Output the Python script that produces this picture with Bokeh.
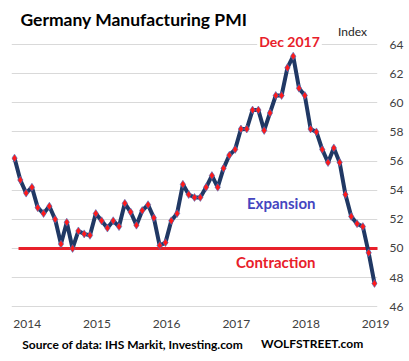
from bokeh.plotting import figure
from bokeh.models import Range1d, FixedTicker, Label
from bokeh.layouts import column
from bokeh.embed import file_html
from bokeh.resources import INLINE

# ---- data (monthly index, Jan 2014 .. Feb 2019) ----
pmi = [56.2, 54.7, 53.8, 54.2, 52.8, 52.4, 52.9, 52.0, 50.3, 51.8, 50.0, 51.2,
       51.0, 50.9, 52.4, 51.9, 51.4, 51.9, 51.5, 53.1, 52.5, 51.6, 52.6, 53.0,
       52.1, 50.2, 50.4, 51.9, 52.4, 54.4, 53.7, 53.5, 53.5, 54.2, 55.0, 54.2,
       55.5, 56.4, 56.8, 58.2, 58.2, 59.5, 59.5, 58.1, 59.3, 60.5, 60.5, 62.4,
       63.2, 61.0, 60.5, 58.2, 58.0, 56.8, 55.9, 56.9, 55.9, 53.7, 52.2, 51.7,
       51.5, 49.7, 47.6]
months = list(range(len(pmi)))
year_labels = ["2014", "2015", "2016", "2017", "2018", "2019"]
year_ticks = [2.2 + 12 * k for k in range(len(year_labels))]
y_ticks = [46, 48, 50, 52, 54, 56, 58, 60, 62, 64]
threshold = 50

FONT = "Lato"
W = 409


def strip(h, y_top):
    """A text-only strip: its frame covers the whole canvas, one unit per pixel."""
    f = figure(width=W, height=h, x_range=Range1d(0, W), y_range=Range1d(y_top + h, y_top),
               output_backend="svg", toolbar_location=None,
               x_axis_location=None, y_axis_location=None,
               min_border=0, min_border_left=0, min_border_right=0,
               min_border_top=0, min_border_bottom=0)
    f.outline_line_color = None
    f.grid.visible = False
    f.background_fill_color = "white"
    f.border_fill_color = "white"
    return f


def lab(fig, x, y, text, size, color, align="left", style="bold", bg=None, pad=0):
    l = Label(x=x, y=y, text=text, text_font=FONT, text_font_size=size,
              text_font_style=style, text_color=color, text_align=align,
              text_baseline="middle")
    if bg:
        l.background_fill_color = bg
        l.padding = pad
    fig.add_layout(l)


# ---- header strip (0..40 px); the chart below overlaps its last 10 px ----
top = strip(40, 0)
top.margin = (0, 0, -10, 0)
lab(top, 10, 19, "Germany Manufacturing PMI", "17.5px", "#000000")
lab(top, 381, 30.5, "Index", "12px", "#262626", align="center", style="normal")

# ---- main chart (30..333 px), transparent so the header shows through ----
p = figure(width=W, height=303,
           x_range=Range1d(-0.52, 62.52), y_range=Range1d(45.603, 64.962),
           output_backend="svg", toolbar_location=None, y_axis_location="right",
           min_border_left=11, min_border_right=32, min_border_top=0, min_border_bottom=21)
p.outline_line_color = None
p.background_fill_color = None
p.border_fill_color = None

yax = p.yaxis[0]
yax.ticker = FixedTicker(ticks=y_ticks)
yax.axis_line_color = None
yax.major_tick_line_color = None
yax.minor_tick_line_color = None
yax.major_tick_out = 0
yax.major_tick_in = 0
yax.minor_tick_out = 0
yax.major_label_standoff = 12
yax.major_label_text_font = FONT
yax.major_label_text_font_size = "12px"
yax.major_label_text_color = "#404040"

xax = p.xaxis[0]
xax.ticker = FixedTicker(ticks=year_ticks)
xax.major_label_overrides = {t: l for t, l in zip(year_ticks, year_labels)}
xax.axis_line_color = None
xax.major_tick_line_color = None
xax.minor_tick_line_color = None
xax.major_tick_out = 0
xax.major_tick_in = 0
xax.minor_tick_out = 0
xax.major_label_standoff = 7
xax.major_label_text_font = FONT
xax.major_label_text_font_size = "12px"
xax.major_label_text_color = "#404040"

p.xgrid.visible = False
p.ygrid.ticker = FixedTicker(ticks=y_ticks)
p.ygrid.grid_line_color = "#D9D9D9"
p.ygrid.grid_line_width = 1

p.segment(x0=[0.69], y0=[threshold], x1=[62.9], y1=[threshold],
          line_color="#E8202A", line_width=3)
p.line(months, pmi, line_color="#203864", line_width=4, line_join="round")
p.scatter(months, pmi, marker="diamond", size=8, fill_color="#FF1A1A",
          line_color="#4472C4", line_width=0.6)

lab(p, 47.36, 64.24, "Dec 2017", "14px", "#E8202A", align="center", bg="white", pad=2)
lab(p, 51.84, 53.09, "Expansion", "15px", "#4545C0", align="right")
lab(p, 51.84, 49.04, "Contraction", "15px", "#E8202A", align="right")

# ---- footer strip ----
bot = strip(28, 333)
lab(bot, 12, 344, "Source of data: IHS Markit, Investing.com", "12px", "#000000")
lab(bot, 393, 343, "WOLFSTREET.com", "12px", "#000000", align="right")

layout = column(top, p, bot, spacing=0)
open("out.html", "w").write(file_html(layout, INLINE))
